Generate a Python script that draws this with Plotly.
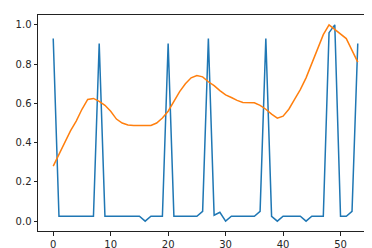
import plotly.graph_objects as go

x_vals = list(range(54))
blue_vals = [0.93, 0.025, 0.025, 0.025, 0.025, 0.025, 0.025, 0.025, 0.905, 0.025,
             0.025, 0.025, 0.025, 0.025, 0.025, 0.025, 0.0, 0.025, 0.025, 0.025,
             0.905, 0.025, 0.025, 0.025, 0.025, 0.025, 0.05, 0.93, 0.03, 0.045,
             0.0, 0.025, 0.025, 0.025, 0.025, 0.025, 0.05, 0.93, 0.025, 0.0,
             0.025, 0.025, 0.025, 0.025, 0.0, 0.025, 0.025, 0.025, 0.96, 1.0,
             0.025, 0.025, 0.05, 0.905]
orange_vals = [0.28, 0.34, 0.40, 0.46, 0.51, 0.57, 0.62, 0.625, 0.61, 0.59,
               0.56, 0.52, 0.50, 0.49, 0.487, 0.487, 0.487, 0.487, 0.50, 0.525,
               0.56, 0.61, 0.66, 0.70, 0.73, 0.742, 0.735, 0.71, 0.69, 0.665,
               0.643, 0.63, 0.615, 0.605, 0.605, 0.603, 0.59, 0.57, 0.545, 0.525,
               0.535, 0.57, 0.62, 0.67, 0.73, 0.80, 0.88, 0.95, 1.0, 0.975,
               0.955, 0.93, 0.87, 0.81]
x_ticks = [0, 10, 20, 30, 40, 50]
y_ticks = [0.0, 0.2, 0.4, 0.6, 0.8, 1.0]

fig = go.Figure()
fig.add_trace(go.Scatter(x=x_vals, y=blue_vals, mode="lines",
                         line=dict(color="#1f77b4", width=1.5)))
fig.add_trace(go.Scatter(x=x_vals, y=orange_vals, mode="lines",
                         line=dict(color="#ff7f0e", width=1.5)))

axis_common = dict(showgrid=False, zeroline=False, showline=True, mirror=True,
                   linecolor="#222222", linewidth=1, ticks="outside", ticklen=3.5,
                   tickwidth=1, tickcolor="#222222",
                   tickfont=dict(family="DejaVu Sans", size=10, color="#262626"))
fig.update_xaxes(range=[-2.65, 55.65], tickvals=x_ticks, **axis_common)
fig.update_yaxes(range=[-0.05, 1.05], tickvals=y_ticks, tickformat=".1f", **axis_common)

fig.update_layout(width=372, height=248, showlegend=False,
                  margin=dict(l=30, r=7, t=6, b=24),
                  paper_bgcolor="white", plot_bgcolor="white")
fig.write_html("out.html")
